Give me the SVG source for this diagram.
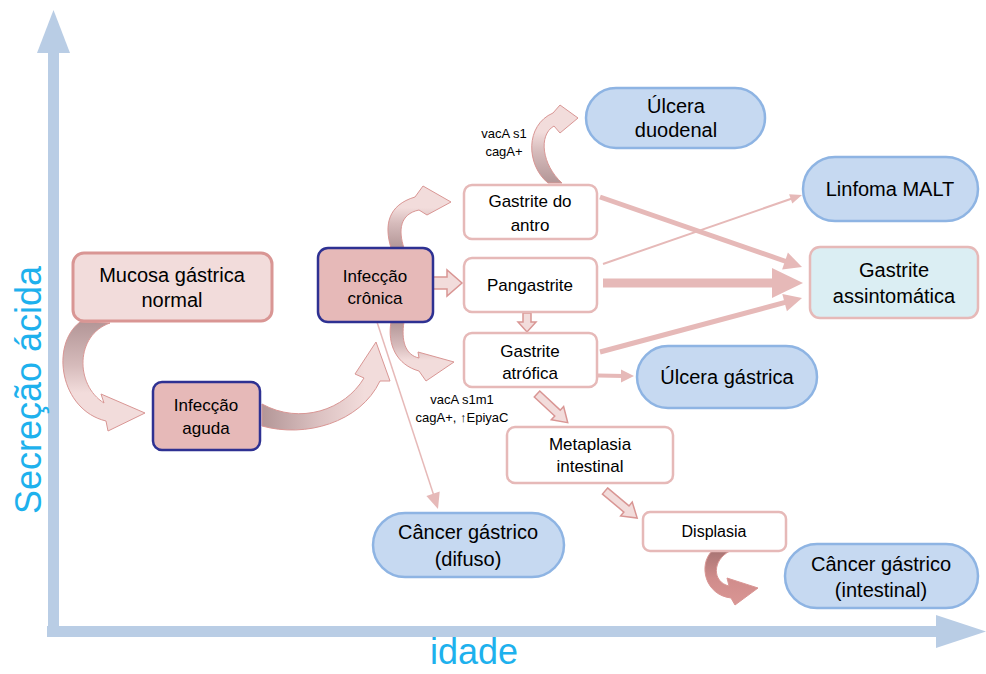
<svg xmlns="http://www.w3.org/2000/svg" width="986" height="674" viewBox="0 0 986 674">
<defs>
<style>
.t{font-family:"Liberation Sans",Arial,sans-serif;fill:#000;text-anchor:middle}
.t20{font-size:20px}
.t17{font-size:17px}
.lab{font-family:"Liberation Sans",Arial,sans-serif;font-size:13px;fill:#000;text-anchor:middle}
.nb{fill:#fff;stroke:#E6B9B8;stroke-width:2.5}
.pill{fill:#C6D9F1;stroke:#8EB4E3;stroke-width:2.5}
.inf{fill:#E6B9B8;stroke:#2E3192;stroke-width:2.5}
.ln{stroke:#E6B9B8;fill:none}
.hd{fill:#E6B9B8}
.blk{fill:#F2DCDB;stroke:#D99694;stroke-width:1.5}
.rib{stroke:#D99694;stroke-width:1}
.axis{fill:#B9CDE5}
.axt{font-family:"Liberation Sans",Arial,sans-serif;fill:#1EB1ED}
</style>
<linearGradient id="gDown" x1="0" y1="0" x2="0" y2="1">
<stop offset="0" stop-color="#B39697"/><stop offset="0.4" stop-color="#D6BBBB"/><stop offset="0.65" stop-color="#F2DCDB"/>
</linearGradient>
<linearGradient id="gUp" x1="0" y1="1" x2="0" y2="0">
<stop offset="0" stop-color="#B39697"/><stop offset="0.4" stop-color="#D6BBBB"/><stop offset="0.65" stop-color="#F2DCDB"/>
</linearGradient>
<linearGradient id="gRight" x1="0" y1="0" x2="1" y2="0">
<stop offset="0" stop-color="#B39697"/><stop offset="0.45" stop-color="#DCC2C2"/><stop offset="0.8" stop-color="#F2DCDB"/>
</linearGradient>
<linearGradient id="gDark" x1="0" y1="0" x2="0" y2="1">
<stop offset="0" stop-color="#A87574"/><stop offset="0.5" stop-color="#D08C8B"/><stop offset="1" stop-color="#D99694"/>
</linearGradient>
</defs>

<g id="axes">
<rect class="axis" x="48" y="52" width="11" height="585"/>
<polygon class="axis" points="37,53 53.5,10 70,53"/>
<rect class="axis" x="47" y="626" width="890" height="11"/>
<polygon class="axis" points="936,615 986,631.5 936,648"/>
<text class="axt" font-size="36" transform="translate(41,390) rotate(-90)" text-anchor="middle">Secreção ácida</text>
<text class="axt" font-size="36" x="474" y="664" text-anchor="middle">idade</text>
</g>

<g id="connectors">
<path class="rib" fill="url(#gDown)" d="M80,322 L110,323 C75,335 75,385 104,403 L101,394 L145,413 L108,431 L106,421 C60,410 50,345 80,322 Z"/>
<path class="rib" fill="url(#gRight)" d="M262,404 C300,425 345,410 364,378 L355,374 L376,342 L390,381 L380,381 C360,423 305,438 262,426 Z"/>
<path class="rib" fill="url(#gUp)" d="M391,248 C384,225 388,205 415,197 L423,186 L451,202 L427,215 L419,210 C400,214 398,230 404,248 Z"/>
<path class="rib" fill="url(#gDown)" d="M391,322 C387,345 397,365 419,371 L426,381 L454,362 L418,352 L419,358 C405,355 401,340 404,322 Z"/>
<path class="rib" fill="url(#gUp)" d="M548,183 C526,165 525,125 553,113 L560,105 L578,118 L560,133 L554,126 C538,135 542,165 562,183 Z"/>
<path class="rib" fill="url(#gDark)" d="M712,551 L730,551 C712,560 712,582 729,586 L727,578 L758,588 L735,605 L731,598 C705,595 698,565 712,551 Z"/>

<polygon class="blk" points="433,277 447,277 447,270 462,283 447,296 447,289 433,289"/>
<polygon class="blk" points="523,313 531,313 531,322 536,322 527,332 518,322 523,322"/>
<polygon class="blk" transform="translate(537,394) rotate(43)" points="0,-4 28,-4 28,-9 42,0 28,9 28,4 0,4"/>
<polygon class="blk" transform="translate(605,491) rotate(40)" points="0,-4 28,-4 28,-9 42,0 28,9 28,4 0,4"/>

<line class="ln" x1="600" y1="197" x2="786" y2="261.5" stroke-width="5"/>
<polygon class="hd" points="782.1,269.6 802,267 787.9,252.6"/>
<line class="ln" x1="603" y1="264" x2="792" y2="198.5" stroke-width="2"/>
<polygon class="hd" points="792.3,203.6 802,195 789.1,194.2"/>
<line class="ln" x1="603" y1="283" x2="774" y2="283" stroke-width="9"/>
<polygon class="hd" points="772,268 803,283 772,298"/>
<line class="ln" x1="600" y1="352" x2="786" y2="302.2" stroke-width="5"/>
<polygon class="hd" points="786.9,311.3 802,298 782.3,293.9"/>
<line class="ln" x1="598" y1="375.5" x2="624" y2="376" stroke-width="4"/>
<polygon class="hd" points="621,369.5 634,376 621,382.5"/>
<line class="ln" x1="377" y1="322" x2="434" y2="496" stroke-width="1.5"/>
<polygon class="hd" points="426.4,496 438,509 439.7,491.6"/>
</g>

<g id="n-mucosa">
<rect x="73" y="253" width="199" height="68" rx="11" fill="#F2DCDB" stroke="#D99694" stroke-width="3"/>
<text class="t t20" x="172" y="282">Mucosa gástrica</text>
<text class="t t20" x="172" y="307">normal</text>
</g>
<g id="n-aguda">
<rect class="inf" x="153" y="382" width="107" height="68" rx="9"/>
<text class="t t17" x="206" y="411">Infecção</text>
<text class="t t17" x="206" y="434">aguda</text>
</g>
<g id="n-cronica">
<rect class="inf" x="318" y="248" width="115" height="74" rx="10"/>
<text class="t t17" x="375" y="282">Infecção</text>
<text class="t t17" x="375" y="304">crônica</text>
</g>
<g id="n-antro">
<rect class="nb" x="464" y="185" width="133" height="54" rx="8"/>
<text class="t t17" x="530" y="207">Gastrite do</text>
<text class="t t17" x="530" y="231">antro</text>
</g>
<g id="n-pangastrite">
<rect class="nb" x="464" y="258" width="133" height="54" rx="8"/>
<text class="t t17" x="530" y="291">Pangastrite</text>
</g>
<g id="n-atrofica">
<rect class="nb" x="464" y="333" width="133" height="54" rx="8"/>
<text class="t t17" x="530" y="357">Gastrite</text>
<text class="t t17" x="530" y="379">atrófica</text>
</g>
<g id="n-metaplasia">
<rect class="nb" x="507" y="427" width="166" height="56" rx="8"/>
<text class="t t17" x="590" y="450">Metaplasia</text>
<text class="t t17" x="590" y="472">intestinal</text>
</g>
<g id="n-displasia">
<rect class="nb" x="643" y="512" width="143" height="39" rx="7"/>
<text class="t" font-size="16" x="714" y="537">Displasia</text>
</g>
<g id="n-ulcera-duodenal">
<rect class="pill" x="586" y="88" width="179" height="60" rx="30"/>
<text class="t t20" x="676" y="113">Úlcera</text>
<text class="t t20" x="676" y="137">duodenal</text>
</g>
<g id="n-linfoma">
<rect class="pill" x="803" y="157" width="175" height="64" rx="32"/>
<text class="t t20" x="890" y="196">Linfoma MALT</text>
</g>
<g id="n-assintomatica">
<rect x="810" y="247" width="168" height="71" rx="10" fill="#DBEEF3" stroke="#E6B9B8" stroke-width="2.5"/>
<text class="t t20" x="894" y="277">Gastrite</text>
<text class="t t20" x="894" y="303">assintomática</text>
</g>
<g id="n-ulcera-gastrica">
<rect class="pill" x="637" y="346" width="180" height="62" rx="31"/>
<text class="t t20" x="727" y="384">Úlcera gástrica</text>
</g>
<g id="n-cancer-difuso">
<rect class="pill" x="373" y="513" width="191" height="64" rx="32"/>
<text class="t t20" x="468" y="539">Câncer gástrico</text>
<text class="t t20" x="468" y="566">(difuso)</text>
</g>
<g id="n-cancer-intestinal">
<rect class="pill" x="785" y="544" width="193" height="64" rx="32"/>
<text class="t t20" x="881" y="571">Câncer gástrico</text>
<text class="t t20" x="881" y="597">(intestinal)</text>
</g>

<g id="labels">
<text class="lab" x="504" y="138">vacA s1</text>
<text class="lab" x="504" y="156">cagA+</text>
<text class="lab" x="462" y="404">vacA s1m1</text>
<text class="lab" x="462" y="422">cagA+, ↑EpiyaC</text>
</g>
</svg>
